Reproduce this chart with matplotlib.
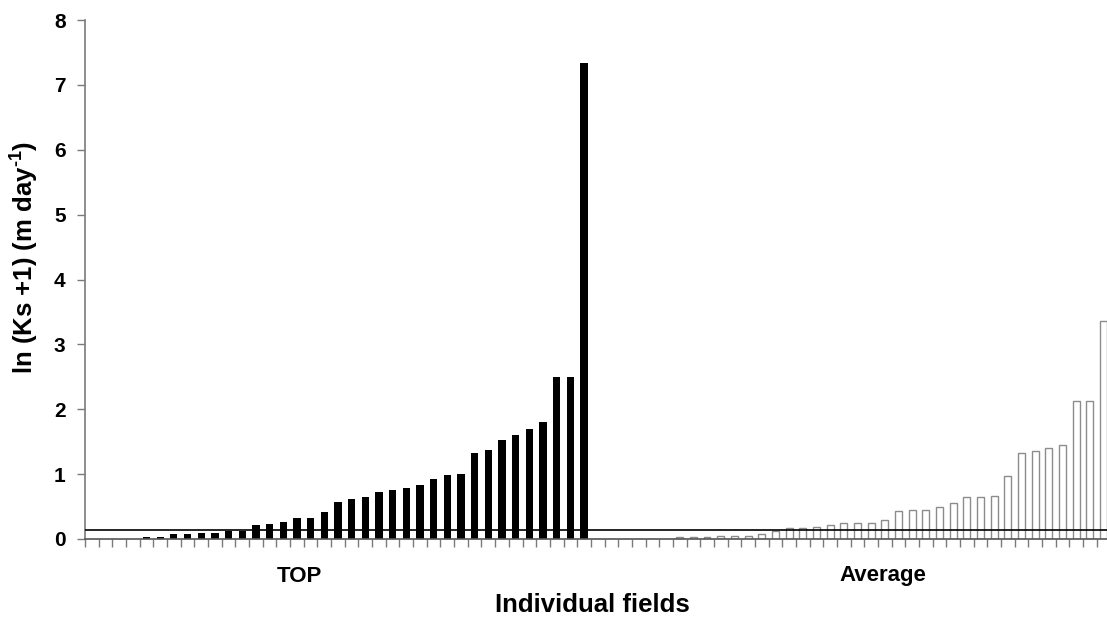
import matplotlib
matplotlib.use("Agg")
import matplotlib.pyplot as plt
import numpy as np

plt.rcParams['font.family'] = ['Liberation Sans', 'DejaVu Sans']
plt.rcParams['mathtext.fontset'] = 'custom'
plt.rcParams['mathtext.rm'] = 'Liberation Sans:bold'
plt.rcParams['mathtext.bf'] = 'Liberation Sans:bold'
plt.rcParams['mathtext.it'] = 'Liberation Sans:bold'

# Data (ln(Ks+1), m/day), fields sorted ascending
top_values = [0, 0, 0, 0, 0.03, 0.03, 0.07, 0.07, 0.09, 0.09, 0.13, 0.13,
              0.21, 0.23, 0.26, 0.33, 0.33, 0.42, 0.57, 0.62, 0.64, 0.72,
              0.75, 0.78, 0.84, 0.93, 0.98, 1.00, 1.33, 1.37, 1.53, 1.61,
              1.69, 1.80, 2.49, 2.50, 7.33]
avg_values = [0, 0, 0, 0, 0, 0, 0.025, 0.025, 0.025, 0.05, 0.05, 0.05, 0.07,
              0.13, 0.17, 0.17, 0.18, 0.22, 0.25, 0.25, 0.24, 0.30, 0.43,
              0.45, 0.45, 0.50, 0.55, 0.65, 0.65, 0.67, 0.97, 1.33, 1.35,
              1.41, 1.45, 2.13, 2.13, 3.36]
reference_line = 0.14
group_labels = ["TOP", "Average"]
y_ticks = [0, 1, 2, 3, 4, 5, 6, 7, 8]

W, H = 1107, 618
fig = plt.figure(figsize=(W / 100, H / 100), dpi=100)
ax = fig.add_axes([85 / W, 79 / H, 1025.4 / W, 519 / H])

n_top = len(top_values)
n_avg = len(avg_values)
x_top = np.arange(n_top)
x_avg = np.arange(n_top, n_top + n_avg)

ax.bar(x_top, top_values, width=0.53, color='black', edgecolor='none', zorder=2)
ax.bar(x_avg, avg_values, width=0.5, color='white', edgecolor='#8c8c8c',
       linewidth=1.0, zorder=2)
ax.axhline(reference_line, color='black', linewidth=1.2, zorder=3)

n_total = n_top + n_avg
ax.set_xlim(-0.5, n_total - 0.5)
ax.set_ylim(0, 8)
ax.set_yticks(y_ticks)
ax.set_yticklabels([str(v) for v in y_ticks], fontsize=15, fontweight='bold')
ax.set_xticks(np.arange(-0.5, n_total, 1.0))
ax.set_xticklabels([])
ax.tick_params(axis='x', direction='out', length=6, width=1, color='#7a7a7a')
ax.tick_params(axis='y', direction='out', length=6, width=1, color='#7a7a7a',
               pad=8)

for s in ['top', 'right']:
    ax.spines[s].set_visible(False)
ax.spines['left'].set_color('#7a7a7a')
ax.spines['left'].set_linewidth(1.2)
ax.spines['bottom'].set_color('#555555')
ax.spines['bottom'].set_linewidth(1.2)

fig.text(299 / W, 1 - 576 / H, group_labels[0], ha='center', va='center',
         fontsize=16, fontweight='bold')
fig.text(883 / W, 1 - 576 / H, group_labels[1], ha='center', va='center',
         fontsize=16, fontweight='bold')
fig.text(592 / W, 1 - 605 / H, "Individual fields", ha='center', va='center',
         fontsize=18.5, fontweight='bold')
fig.text(25 / W, 1 - 258 / H, r"ln (Ks +1) (m day$^{\text{-1}}$)",
         ha='center', va='center', rotation=90, fontsize=18.5,
         fontweight='bold')

fig.savefig("out.png", dpi=100)
